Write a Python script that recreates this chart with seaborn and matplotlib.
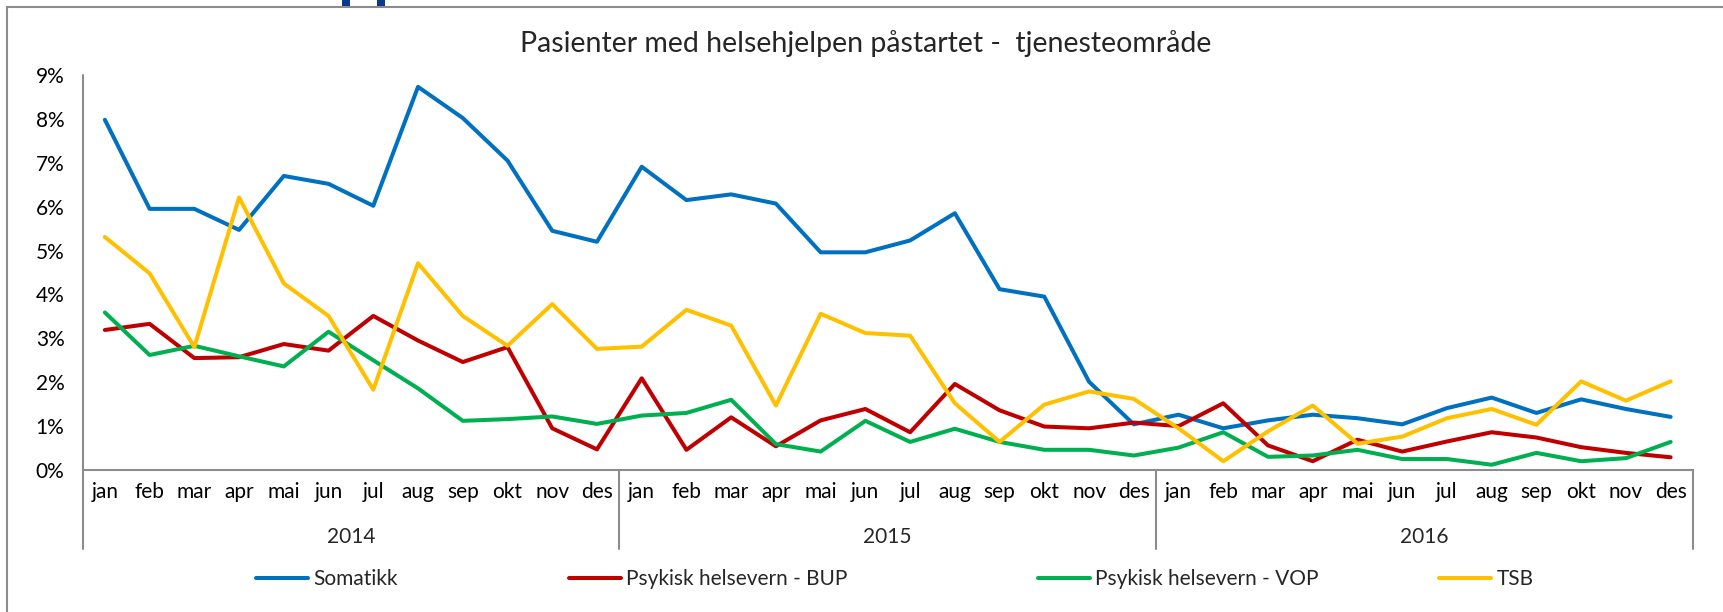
import matplotlib
matplotlib.use("Agg")
import matplotlib.pyplot as plt
import matplotlib.transforms as mtransforms
from matplotlib.patches import Rectangle
from matplotlib.ticker import PercentFormatter
import pandas as pd
import seaborn as sns

years = ["2014", "2015", "2016"]
months = ["jan", "feb", "mar", "apr", "mai", "jun", "jul", "aug", "sep", "okt", "nov", "des"]

# values in percent, jan 2014 .. des 2016
somatikk = [7.98, 5.95, 5.95, 5.47, 6.70, 6.52, 6.02, 8.73, 8.02, 7.05, 5.45, 5.20,
            6.91, 6.15, 6.28, 6.07, 4.96, 4.96, 5.23, 5.85, 4.12, 3.95, 2.01, 1.04,
            1.26, 0.95, 1.13, 1.26, 1.18, 1.04, 1.41, 1.65, 1.30, 1.61, 1.39, 1.21]
bup = [3.19, 3.33, 2.55, 2.57, 2.87, 2.72, 3.51, 2.95, 2.46, 2.80, 0.95, 0.47,
       2.09, 0.46, 1.20, 0.54, 1.13, 1.39, 0.86, 1.96, 1.36, 0.99, 0.95, 1.08,
       1.00, 1.52, 0.56, 0.20, 0.69, 0.42, 0.65, 0.86, 0.74, 0.52, 0.39, 0.29]
vop = [3.59, 2.62, 2.83, 2.59, 2.36, 3.15, 2.50, 1.86, 1.12, 1.16, 1.22, 1.05,
       1.24, 1.30, 1.60, 0.59, 0.42, 1.12, 0.64, 0.94, 0.64, 0.46, 0.46, 0.33,
       0.51, 0.86, 0.30, 0.33, 0.46, 0.25, 0.25, 0.12, 0.39, 0.20, 0.27, 0.64]
tsb = [5.31, 4.48, 2.80, 6.21, 4.25, 3.51, 1.83, 4.71, 3.51, 2.83, 3.78, 2.76,
       2.81, 3.65, 3.29, 1.47, 3.56, 3.12, 3.06, 1.52, 0.64, 1.49, 1.79, 1.62,
       0.95, 0.20, 0.88, 1.47, 0.60, 0.76, 1.18, 1.39, 1.03, 2.02, 1.58, 2.02]

series_names = ["Somatikk", "Psykisk helsevern - BUP", "Psykisk helsevern - VOP", "TSB"]
colors = ["#0070C0", "#C00000", "#00B050", "#FFC000"]

rows = []
for name, vals in zip(series_names, [somatikk, bup, vop, tsb]):
    for i, v in enumerate(vals):
        rows.append({"pos": i, "serie": name, "value": v / 100})
df = pd.DataFrame(rows)

sns.set_style("white")
plt.rcParams["font.family"] = ["Lato", "DejaVu Sans"]
grey = "#8c8c8c"

fig = plt.figure(figsize=(17.23, 6.12), dpi=100)
W, H = 1723, 612
ax = fig.add_axes([82.5 / W, 1 - 470 / H, (1693 - 82.5) / W, (470 - 75) / H])

sns.lineplot(data=df, x="pos", y="value", hue="serie", hue_order=series_names,
             palette=colors, linewidth=2.9, solid_joinstyle="round", ax=ax)

ax.set_xlim(-0.5, 35.5)
ax.set_ylim(0, 0.09)
ax.set_yticks([i / 100 for i in range(10)])
ax.yaxis.set_major_formatter(PercentFormatter(1, decimals=0))
ax.set_xticks(range(36))
ax.set_xticklabels(months * 3)
ax.tick_params(axis="both", length=0, labelsize=15, colors="black")
ax.tick_params(axis="y", pad=13)
ax.tick_params(axis="x", pad=9)
ax.set_xlabel("")
ax.set_ylabel("")
for s in ["top", "right", "left"]:
    ax.spines[s].set_visible(False)
ax.spines["bottom"].set_color(grey)
ax.spines["bottom"].set_linewidth(1.5)

# multi-level category axis
trans = mtransforms.blended_transform_factory(ax.transData, ax.transAxes)
low = -(549 - 470) / (470 - 75)
for k in range(4):
    x = -0.5 + 12 * k
    top = 1.0 if k == 0 else 0.0
    ax.plot([x, x], [low, top], color=grey, lw=1.5, transform=trans, clip_on=False)
for k, yr in enumerate(years):
    ax.text(12 * k + 5.5, -(537 - 470) / (470 - 75), yr, transform=trans,
            ha="center", va="center", fontsize=15)

fig.text(0.5 * (516 + 1216) / W, 1 - 44 / H, "Pasienter med helsehjelpen påstartet -  tjenesteområde",
         ha="center", va="center", fontsize=20.5)

handles, labels = ax.get_legend_handles_labels()
ax.get_legend().remove()
# one legend per entry, placed like the reference's spread-out legend row
for h, lab, x0 in zip(handles, labels, [256, 569, 1038, 1439]):
    fig.legend([h], [lab], loc="center left", bbox_to_anchor=(x0 / W, 1 - 579 / H),
               frameon=False, fontsize=15, handlelength=2.5, handletextpad=0.25,
               borderpad=0, borderaxespad=0)

# outer frame and the cut-off slide heading above it
fig.add_artist(Rectangle((7 / W, -0.1), 1.2, 1 - 7 / H + 0.1, transform=fig.transFigure,
                         fill=False, edgecolor=grey, lw=1.5))
for x0 in [342, 377]:
    fig.add_artist(Rectangle((x0 / W, 1 - 6 / H), 8 / W, 0.02, transform=fig.transFigure,
                             color="#0b3a8c", lw=0))

fig.savefig("out.png", dpi=100)
